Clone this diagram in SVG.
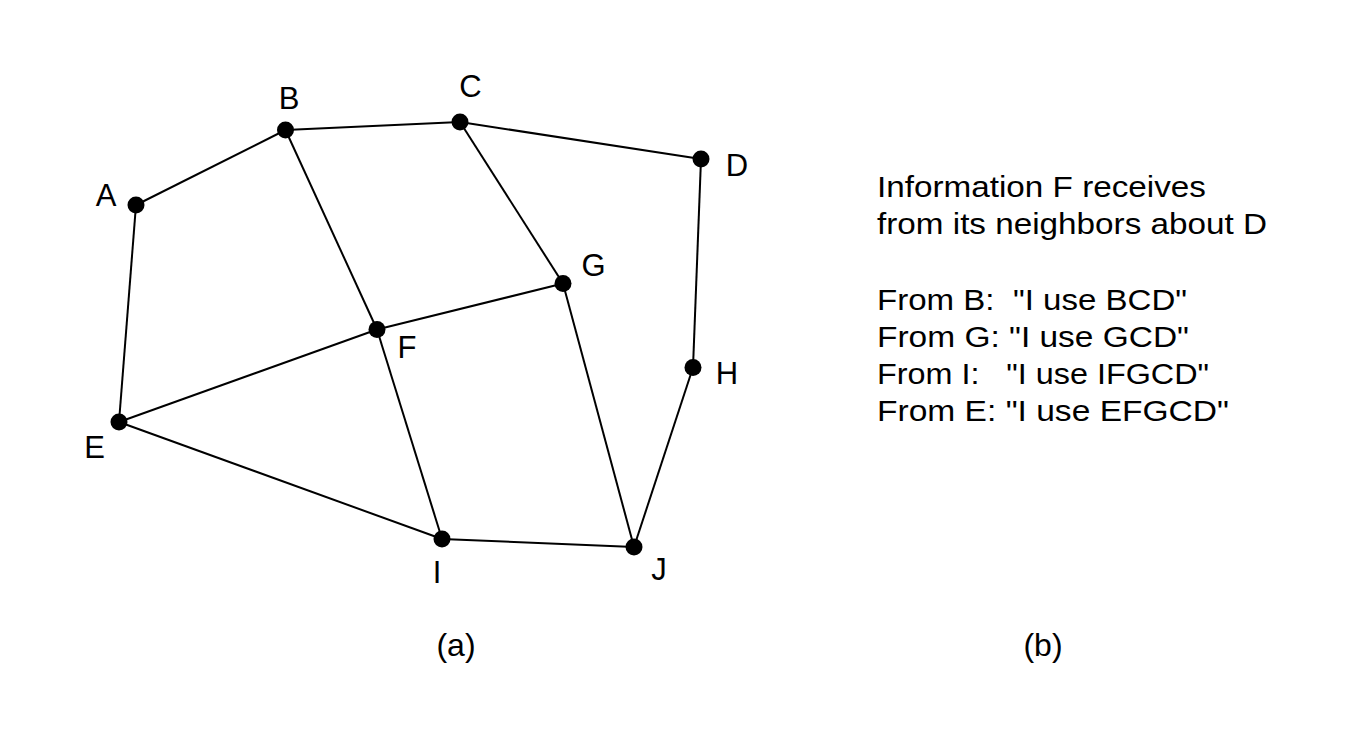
<svg xmlns="http://www.w3.org/2000/svg" width="1360" height="730" viewBox="0 0 1360 730">
  <style>
    .edge { stroke: #000; stroke-width: 2; fill: none; }
    .dot { fill: #000; }
    .lbl { font-family: "Liberation Sans", Arial, sans-serif; font-size: 31px; fill: #000; text-anchor: middle; }
    .info { font-family: "Liberation Sans", Arial, sans-serif; font-size: 30px; fill: #000; white-space: pre; }
    .cap { font-family: "Liberation Sans", Arial, sans-serif; font-size: 32px; fill: #000; text-anchor: middle; }
  </style>
  <rect width="1360" height="730" fill="#fff"/>
  <g id="connectors">
    <line class="edge" x1="136" y1="205" x2="285.5" y2="130"/>
    <line class="edge" x1="285.5" y1="130" x2="460" y2="122"/>
    <line class="edge" x1="460" y1="122" x2="701" y2="159"/>
    <line class="edge" x1="136" y1="205" x2="119" y2="422"/>
    <line class="edge" x1="285.5" y1="130" x2="377" y2="329.5"/>
    <line class="edge" x1="460" y1="122" x2="563" y2="283.5"/>
    <line class="edge" x1="701" y1="159" x2="693" y2="367.5"/>
    <line class="edge" x1="377" y1="329.5" x2="563" y2="283.5"/>
    <line class="edge" x1="119" y1="422" x2="377" y2="329.5"/>
    <line class="edge" x1="377" y1="329.5" x2="442" y2="539"/>
    <line class="edge" x1="563" y1="283.5" x2="634" y2="547"/>
    <line class="edge" x1="693" y1="367.5" x2="634" y2="547"/>
    <line class="edge" x1="119" y1="422" x2="442" y2="539"/>
    <line class="edge" x1="442" y1="539" x2="634" y2="547"/>
  </g>
  <g id="node-A"><circle class="dot" cx="136" cy="205" r="8.5"/><text class="lbl" x="106" y="206">A</text></g>
  <g id="node-B"><circle class="dot" cx="285.5" cy="130" r="8.5"/><text class="lbl" x="289" y="109">B</text></g>
  <g id="node-C"><circle class="dot" cx="460" cy="122" r="8.5"/><text class="lbl" x="470.5" y="97">C</text></g>
  <g id="node-D"><circle class="dot" cx="701" cy="159" r="8.5"/><text class="lbl" x="737" y="176">D</text></g>
  <g id="node-E"><circle class="dot" cx="119" cy="422" r="8.5"/><text class="lbl" x="94.5" y="458">E</text></g>
  <g id="node-F"><circle class="dot" cx="377" cy="329.5" r="8.5"/><text class="lbl" x="407" y="358">F</text></g>
  <g id="node-G"><circle class="dot" cx="563" cy="283.5" r="8.5"/><text class="lbl" x="593.5" y="276">G</text></g>
  <g id="node-H"><circle class="dot" cx="693" cy="367.5" r="8.5"/><text class="lbl" x="727" y="384">H</text></g>
  <g id="node-I"><circle class="dot" cx="442" cy="539" r="8.5"/><text class="lbl" x="437" y="583">I</text></g>
  <g id="node-J"><circle class="dot" cx="634" cy="547" r="8.5"/><text class="lbl" x="659" y="580">J</text></g>
  <g id="info">
    <text class="info" x="877" y="197" textLength="329" lengthAdjust="spacingAndGlyphs">Information F receives</text>
    <text class="info" x="877" y="234" textLength="390" lengthAdjust="spacingAndGlyphs">from its neighbors about D</text>
    <text class="info" x="877" y="310" textLength="310" lengthAdjust="spacingAndGlyphs">From B:  "I use BCD"</text>
    <text class="info" x="877" y="347" textLength="312" lengthAdjust="spacingAndGlyphs">From G: "I use GCD"</text>
    <text class="info" x="877" y="384" textLength="332" lengthAdjust="spacingAndGlyphs">From I:   "I use IFGCD"</text>
    <text class="info" x="877" y="421" textLength="352" lengthAdjust="spacingAndGlyphs">From E: "I use EFGCD"</text>
  </g>
  <g id="captions">
    <text class="cap" x="456" y="656">(a)</text>
    <text class="cap" x="1043" y="656">(b)</text>
  </g>
</svg>
